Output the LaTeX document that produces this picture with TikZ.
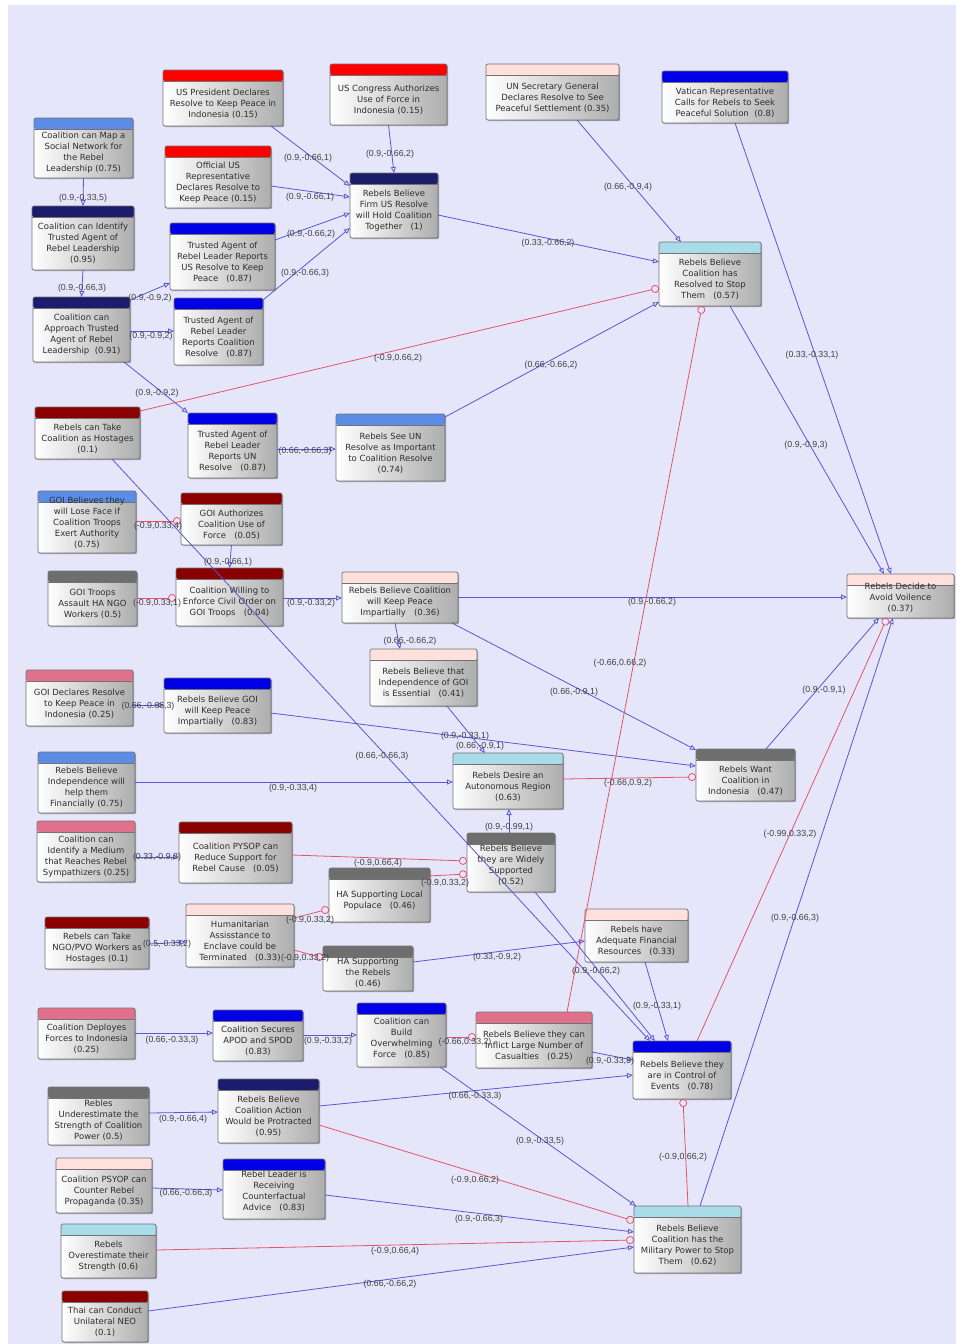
\documentclass[tikz,border=0pt]{standalone}
\usepackage{fontspec}
\usetikzlibrary{arrows.meta,calc,shadows}
\newfontfamily\boxff{DejaVu Sans}
\newfontfamily\lblff{Liberation Sans}
\newcommand\boxfont{\boxff\fontsize{8.5}{11}\selectfont}
\newcommand\lblfont{\lblff\fontsize{8.8}{10}\selectfont}
\definecolor{bglav}{HTML}{E6E6FA}
\definecolor{hred}{HTML}{FF0000}
\definecolor{hnavy}{HTML}{1C1C6C}
\definecolor{hblue}{HTML}{0000E6}
\definecolor{hcorn}{HTML}{5B8DE6}
\definecolor{hpink}{HTML}{FFE0DC}
\definecolor{hdred}{HTML}{8B0000}
\definecolor{hgray}{HTML}{6E6E6E}
\definecolor{hrose}{HTML}{E0708C}
\definecolor{hlblue}{HTML}{A8DCE8}
\definecolor{edgeblue}{RGB}{88,88,208}
\definecolor{edgered}{RGB}{228,84,104}
\definecolor{txtgray}{HTML}{2E2E2E}
\definecolor{lblgray}{HTML}{404040}
\tikzset{
 box/.style={draw=black!55, line width=0.7pt, rounded corners=2pt, left color=white, right color=black!32,
   inner sep=0pt, outer sep=0pt, drop shadow={shadow xshift=1.2pt,shadow yshift=-1.2pt,opacity=0.3,fill=black}},
 txt/.style={font=\boxfont, text=txtgray, align=center, inner sep=0pt},
 lbl/.style={font=\lblfont, text=lblgray, inner sep=0pt},
 be/.style={draw=edgeblue, line width=0.8pt, -{Triangle[open,length=6pt,width=5pt]}},
 re/.style={draw=edgered, line width=0.8pt, -{Circle[open,length=8pt]}},
}
% name, x1, y1, x2, y2, header colour, text yshift, text
\newcommand{\mybox}[8]{%
  \node[box, minimum width={(#4)-(#2)}, minimum height={(#5)-(#3)},
    path picture={\fill[#6] (path picture bounding box.north west) rectangle ([yshift=-11pt]path picture bounding box.north east);
      \draw[black!55, line width=0.5pt] ([yshift=-11pt]path picture bounding box.north west) -- ([yshift=-11pt]path picture bounding box.north east);}]
    (#1) at ({((#2)+(#4))/2},{((#3)+(#5))/2}) {};
  \node[txt] (#1-t) at ([yshift=#7]#1.center) {#8};
}
\newcommand{\elab}[4]{\node[lbl] (#1) at (#2,#3) {#4};}
\begin{document}
\begin{tikzpicture}[x=1pt,y=-1pt]
\useasboundingbox (0,0) rectangle (956,1344);
\fill[white] (0,0) rectangle (956,1344);
\fill[bglav] (8,5) rectangle (956,1344);

% ---------- boxes ----------
\mybox{uspres}{163}{70}{283}{126}{hred}{-5.5pt}{US President Declares\\Resolve to Keep Peace in\\Indonesia (0.15)}
\mybox{congress}{330}{64}{447}{125}{hred}{-5.5pt}{US Congress Authorizes\\Use of Force in\\Indonesia (0.15)}
\mybox{unsec}{486}{64}{619}{120}{hpink}{-5.5pt}{UN Secretary General\\Declares Resolve to See\\Peaceful Settlement (0.35)}
\mybox{vatican}{662}{71}{788}{123}{hblue}{-5.5pt}{Vatican Representative\\Calls for Rebels to Seek\\Peaceful Solution\ \ (0.8)}
\mybox{mapnet}{34}{118}{133}{178}{hcorn}{-5pt}{Coalition can Map a\\Social Network for\\the Rebel\\Leadership (0.75)}
\mybox{official}{165}{146}{271}{208}{hred}{-5.5pt}{Official US\\Representative\\Declares Resolve to\\Keep Peace (0.15)}
\mybox{idta}{32}{206}{134}{270}{hnavy}{-5.5pt}{Coalition can Identify\\Trusted Agent of\\Rebel Leadership\\(0.95)}
\mybox{firmus}{350}{173}{438}{238}{hnavy}{-5.5pt}{Rebels Believe\\Firm US Resolve\\will Hold Coalition\\Together\ \ \ (1)}
\mybox{tausr}{170}{223}{275}{290}{hblue}{-5.5pt}{Trusted Agent of\\Rebel Leader Reports\\US Resolve to Keep\\Peace\ \ \ (0.87)}
\mybox{approach}{33}{297}{130}{362}{hnavy}{-5.5pt}{Coalition can\\Approach Trusted\\Agent of Rebel\\Leadership\ \ (0.91)}
\mybox{tacoal}{174}{298}{263}{365}{hblue}{-5.5pt}{Trusted Agent of\\Rebel Leader\\Reports Coalition\\Resolve\ \ \ (0.87)}
\mybox{resolved}{659}{242}{761}{306}{hlblue}{-5.5pt}{Rebels Believe\\Coalition has\\Resolved to Stop\\Them\ \ \ (0.57)}
\mybox{hostc}{35}{407}{140}{459}{hdred}{-5.5pt}{Rebels can Take\\Coalition as Hostages\\(0.1)}
\mybox{taun}{188}{413}{277}{478}{hblue}{-5.5pt}{Trusted Agent of\\Rebel Leader\\Reports UN\\Resolve\ \ \ (0.87)}
\mybox{seeun}{336}{414}{445}{481}{hcorn}{-5.5pt}{Rebels See UN\\Resolve as Important\\to Coalition Resolve\\(0.74)}
\mybox{loseface}{38}{491}{136}{553}{hcorn}{-1pt}{GOI Believes they\\will Lose Face if\\Coalition Troops\\Exert Authority\\(0.75)}
\mybox{goiauth}{181}{493}{282}{545}{hdred}{-5.5pt}{GOI Authorizes\\Coalition Use of\\Force\ \ \ (0.05)}
\mybox{goitroops}{48}{571}{137}{626}{hgray}{-5.5pt}{GOI Troops\\Assault HA NGO\\Workers (0.5)}
\mybox{willing}{176}{568}{283}{626}{hdred}{-5.5pt}{Coalition Willing to\\Enforce Civil Order on\\GOI Troops\ \ \ (0.04)}
\mybox{keeppeace}{342}{572}{458}{623}{hpink}{-5pt}{Rebels Believe Coalition\\will Keep Peace\\Impartially\ \ \ (0.36)}
\mybox{indepgoi}{370}{649}{477}{706}{hpink}{-5.5pt}{Rebels Believe that\\Independence of GOI\\is Essential\ \ \ (0.41)}
\mybox{decide}{847}{574}{954}{618}{hpink}{-1.5pt}{Rebels Decide to\\Avoid Voilence\\(0.37)}
\mybox{goidecl}{26}{670}{133}{726}{hrose}{-5.5pt}{GOI Declares Resolve\\to Keep Peace in\\Indonesia (0.25)}
\mybox{goiimp}{164}{678}{271}{733}{hblue}{-5.5pt}{Rebels Believe GOI\\will Keep Peace\\Impartially\ \ \ (0.83)}
\mybox{indepfin}{38}{752}{135}{813}{hcorn}{-5.5pt}{Rebels Believe\\Independence will\\help them\\Financially (0.75)}
\mybox{wantcoal}{696}{749}{795}{801}{hgray}{-5.5pt}{Rebels Want\\Coalition in\\Indonesia\ \ \ (0.47)}
\mybox{desire}{453}{753}{563}{809}{hlblue}{-5.5pt}{Rebels Desire an\\Autonomous Region\\(0.63)}
\mybox{medium}{37}{821}{135}{882}{hrose}{-5.5pt}{Coalition can\\Identify a Medium\\that Reaches Rebel\\Sympathizers (0.25)}
\mybox{psyopred}{179}{822}{292}{883}{hdred}{-5.5pt}{Coalition PYSOP can\\Reduce Support for\\Rebel Cause\ \ \ (0.05)}
\mybox{widely}{467}{833}{555}{892}{hgray}{-3pt}{Rebels Believe\\they are Widely\\Supported\\(0.52)}
\mybox{halocal}{329}{868}{430}{922}{hgray}{-5.5pt}{HA Supporting Local\\Populace\ \ \ (0.46)}
\mybox{hostngo}{45}{917}{149}{969}{hdred}{-5.5pt}{Rebels can Take\\NGO/PVO Workers as\\Hostages (0.1)}
\mybox{haterm}{186}{904}{294}{967}{hpink}{-5.5pt}{Humanitarian\\Assisstance to\\Enclave could be\\Terminated\ \ \ (0.33)}
\mybox{harebels}{323}{946}{413}{991}{hgray}{-4pt}{HA Supporting\\the Rebels\\(0.46)}
\mybox{havefin}{585}{909}{688}{962}{hpink}{-5.5pt}{Rebels have\\Adequate Financial\\Resources\ \ \ (0.33)}
\mybox{deploy}{38}{1008}{135}{1059}{hrose}{-5.5pt}{Coalition Deployes\\Forces to Indonesia\\(0.25)}
\mybox{apod}{213}{1010}{303}{1061}{hblue}{-5.5pt}{Coalition Secures\\APOD and SPOD\\(0.83)}
\mybox{build}{357}{1003}{446}{1067}{hblue}{-3.5pt}{Coalition can\\Build\\Overwhelming\\Force\ \ \ (0.85)}
\mybox{casual}{476}{1012}{592}{1068}{hrose}{-5.5pt}{Rebels Believe they can\\Inflict Large Number of\\Casualties\ \ \ (0.25)}
\mybox{control}{633}{1041}{731}{1099}{hblue}{-5.5pt}{Rebels Believe they\\are in Control of\\Events\ \ \ (0.78)}
\mybox{underest}{48}{1087}{149}{1145}{hgray}{-4pt}{Rebles\\Underestimate the\\Strength of Coalition\\Power (0.5)}
\mybox{protract}{218}{1079}{319}{1143}{hnavy}{-5.5pt}{Rebels Believe\\Coalition Action\\Would be Protracted\\(0.95)}
\mybox{psyopctr}{56}{1158}{152}{1213}{hpink}{-5.5pt}{Coalition PSYOP can\\Counter Rebel\\Propaganda (0.35)}
\mybox{counterf}{223}{1159}{325}{1219}{hblue}{-2pt}{Rebel Leader is\\Receiving\\Counterfactual\\Advice\ \ \ (0.83)}
\mybox{military}{634}{1206}{741}{1273}{hlblue}{-5.5pt}{Rebels Believe\\Coalition has the\\Military Power to Stop\\Them\ \ \ (0.62)}
\mybox{overest}{61}{1224}{156}{1278}{hlblue}{-5.5pt}{Rebels\\Overestimate their\\Strength (0.6)}
\mybox{thai}{62}{1291}{148}{1342}{hdred}{-5.5pt}{Thai can Conduct\\Unilateral NEO\\(0.1)}

% ---------- connectors ----------
\draw[be] (mapnet.south) -- (idta.north);
\draw[be] (idta.south) -- (approach.north);
\draw[be] ($(approach.north west)+(97,3)$) -- ($(tausr.north west)+(0,60)$);
\draw[be] ($(approach.north west)+(97,34)$) -- ($(tacoal.north west)+(0,33)$);
\draw[be] ($(approach.north west)+(91,65)$) -- (taun.north west);
\draw[be] ($(uspres.north west)+(108,56)$) -- ($(firmus.north west)+(0,13)$);
\draw[be] ($(official.north west)+(106,40)$) -- ($(firmus.north west)+(0,24)$);
\draw[be] ($(tausr.north west)+(105,17)$) -- ($(firmus.north west)+(0,40)$);
\draw[be] ($(tacoal.north west)+(89,2)$) -- ($(firmus.north west)+(0,55)$);
\draw[be] (congress.south) -- (firmus.north);
\draw[be] ($(firmus.north west)+(88,42)$) -- ($(resolved.north west)+(0,20)$);
\draw[be] ($(unsec.north west)+(91,56)$) -- ($(resolved.north west)+(22,0)$);
\draw[re] ($(hostc.north west)+(105,4)$) -- ($(resolved.north west)+(0,46)$);
\draw[be] ($(seeun.north west)+(109,3)$) -- ($(resolved.north west)+(0,60)$);
\draw[be] ($(taun.north west)+(89,36)$) -- ($(seeun.north west)+(0,35)$);
\draw[be] ($(resolved.north west)+(71,64)$) -- ($(decide.north west)+(37,0)$);
\draw[be] ($(vatican.north west)+(73,52)$) -- ($(decide.north west)+(44,0)$);
\draw[be] ($(keeppeace.north west)+(116,25)$) -- ($(decide.north west)+(0,23)$);
\draw[be] ($(wantcoal.north west)+(70,0)$) -- ($(decide.north west)+(32,44)$);
\draw[re] ($(control.north west)+(64,0)$) -- ($(decide.north west)+(40,44)$);
\draw[be] ($(military.north west)+(66,0)$) -- ($(decide.north west)+(46,44)$);
\draw[re] ($(loseface.north west)+(98,30)$) -- ($(goiauth.north west)+(0,28)$);
\draw[be] (goiauth.south) -- (willing.north);
\draw[re] ($(goitroops.north west)+(89,27)$) -- ($(willing.north west)+(0,30)$);
\draw[be] ($(willing.north west)+(107,30)$) -- ($(keeppeace.north west)+(0,26)$);
\draw[be] ($(hostc.north west)+(77,52)$) -- ($(control.north west)+(17,0)$);
\draw[be] ($(keeppeace.north west)+(53,51)$) -- ($(indepgoi.north west)+(30,0)$);
\draw[be] ($(keeppeace.north west)+(110,51)$) -- ($(wantcoal.north west)+(0,1)$);
\draw[be] ($(indepgoi.north west)+(77,57)$) -- ($(desire.north west)+(32,0)$);
\draw[be] ($(goidecl.north west)+(107,35)$) -- ($(goiimp.north west)+(0,27)$);
\draw[be] ($(goiimp.north west)+(107,35)$) -- ($(wantcoal.north west)+(0,17)$);
\draw[be] ($(indepfin.north west)+(97,30)$) -- ($(desire.north west)+(0,29)$);
\draw[re] ($(desire.north west)+(110,26)$) -- ($(wantcoal.north west)+(0,28)$);
\draw[be] ($(widely.north west)+(42,0)$) -- ($(desire.north west)+(56,56)$);
\draw[be] ($(medium.north west)+(98,36)$) -- ($(psyopred.north west)+(0,35)$);
\draw[re] ($(psyopred.north west)+(113,33)$) -- ($(widely.north west)+(0,28)$);
\draw[re] ($(halocal.north west)+(99,8)$) -- ($(widely.north west)+(0,41)$);
\draw[re] ($(haterm.north west)+(108,14)$) -- ($(halocal.north west)+(0,41)$);
\draw[re] ($(haterm.north west)+(108,46)$) -- ($(harebels.north west)+(0,12)$);
\draw[be] ($(hostngo.north west)+(104,27)$) -- ($(haterm.north west)+(0,38)$);
\draw[be] ($(harebels.north west)+(90,16)$) -- ($(havefin.north west)+(0,32)$);
\draw[be] ($(widely.north west)+(68,59)$) -- ($(control.north west)+(22,0)$);
\draw[be] ($(havefin.north west)+(60,53)$) -- ($(control.north west)+(35,0)$);
\draw[be] ($(casual.north west)+(116,40)$) -- ($(control.north west)+(0,19)$);
\draw[be] ($(protract.north west)+(101,27)$) -- ($(control.north west)+(0,34)$);
\draw[be] ($(apod.north west)+(90,25)$) -- ($(build.north west)+(0,32)$);
\draw[be] ($(deploy.north west)+(97,25)$) -- ($(apod.north west)+(0,23)$);
\draw[re] ($(build.north west)+(89,34)$) -- ($(casual.north west)+(0,25)$);
\draw[re] ($(casual.north west)+(91,0)$) -- ($(resolved.north west)+(43,64)$);
\draw[be] ($(build.north west)+(83,64)$) -- ($(military.north west)+(2,0)$);
\draw[re] ($(protract.north west)+(101,46)$) -- ($(military.north west)+(0,15)$);
\draw[be] ($(counterf.north west)+(102,36)$) -- ($(military.north west)+(0,26)$);
\draw[re] ($(overest.north west)+(95,26)$) -- ($(military.north west)+(0,34)$);
\draw[be] ($(thai.north west)+(86,20)$) -- ($(military.north west)+(0,41)$);
\draw[re] ($(military.north west)+(54,0)$) -- ($(control.north west)+(50,58)$);
\draw[be] ($(underest.north west)+(101,26)$) -- ($(protract.north west)+(0,33)$);
\draw[be] ($(psyopctr.north west)+(96,30)$) -- ($(counterf.north west)+(0,31)$);

% ---------- connector labels ----------
\elab{l1}{83}{198}{(0.9,-0.33,5)}
\elab{l2}{82}{288}{(0.9,-0.66,3)}
\elab{l3}{150}{298}{(0.9,-0.9,2)}
\elab{l4}{151}{336}{(0.9,-0.9,2)}
\elab{l5}{157}{393}{(0.9,-0.9,2)}
\elab{l6}{308}{158}{(0.9,-0.66,1)}
\elab{l7}{310}{197}{(0.9,-0.66,1)}
\elab{l8}{311}{234}{(0.9,-0.66,2)}
\elab{l9}{305}{273}{(0.9,-0.66,3)}
\elab{l10}{390}{154}{(0.9,-0.66,2)}
\elab{l11}{548}{243}{(0.33,-0.66,2)}
\elab{l12}{628}{187}{(0.66,-0.9,4)}
\elab{l13}{398}{358}{(-0.9,0.66,2)}
\elab{l14}{551}{365}{(0.66,-0.66,2)}
\elab{l15}{305}{451}{(0.66,-0.66,3)}
\elab{l16}{806}{445}{(0.9,-0.9,3)}
\elab{l17}{812}{355}{(0.33,-0.33,1)}
\elab{l18}{652}{602}{(0.9,-0.66,2)}
\elab{l19}{824}{690}{(0.9,-0.9,1)}
\elab{l20}{790}{834}{(-0.99,0.33,2)}
\elab{l21}{795}{918}{(0.9,-0.66,3)}
\elab{l22}{158}{526}{(-0.9,0.33,4)}
\elab{l23}{228}{562}{(0.9,-0.66,1)}
\elab{l24}{157}{603}{(-0.9,0.33,1)}
\elab{l25}{311}{603}{(0.9,-0.33,2)}
\elab{l26}{382}{756}{(0.66,-0.66,3)}
\elab{l27}{410}{641}{(0.66,-0.66,2)}
\elab{l28}{574}{692}{(0.66,-0.9,1)}
\elab{l29}{465}{736}{(0.9,-0.33,1)}
\elab{l30}{480}{746}{(0.66,-0.9,1)}
\elab{l31}{148}{706}{(0.66,-0.66,3)}
\elab{l32}{293}{788}{(0.9,-0.33,4)}
\elab{l33}{628}{783}{(-0.66,0.9,2)}
\elab{l34}{509}{827}{(0.9,-0.99,1)}
\elab{l35}{157}{857}{(0.33,-0.9,2)}
\elab{l36}{378}{863}{(-0.9,0.66,4)}
\elab{l37}{445}{883}{(-0.9,0.33,2)}
\elab{l38}{310}{920}{(-0.9,0.33,2)}
\elab{l39}{305}{958}{(-0.9,0.33,2)}
\elab{l40}{167}{944}{(0.5,-0.33,2)}
\elab{l41}{497}{957}{(0.33,-0.9,2)}
\elab{l42}{596}{971}{(0.9,-0.66,2)}
\elab{l43}{657}{1006}{(0.9,-0.33,1)}
\elab{l44}{610}{1061}{(0.9,-0.33,3)}
\elab{l45}{475}{1096}{(0.66,-0.33,3)}
\elab{l46}{328}{1041}{(0.9,-0.33,2)}
\elab{l47}{172}{1040}{(0.66,-0.33,3)}
\elab{l48}{465}{1042}{(-0.66,0.33,2)}
\elab{l49}{620}{663}{(-0.66,0.66,2)}
\elab{l50}{540}{1141}{(0.9,-0.33,5)}
\elab{l51}{475}{1180}{(-0.9,0.66,2)}
\elab{l52}{479}{1219}{(0.9,-0.66,3)}
\elab{l53}{395}{1251}{(-0.9,0.66,4)}
\elab{l54}{390}{1284}{(0.66,-0.66,2)}
\elab{l55}{683}{1157}{(-0.9,0.66,2)}
\elab{l56}{183}{1119}{(0.9,-0.66,4)}
\elab{l57}{186}{1193}{(0.66,-0.66,3)}
\end{tikzpicture}
\end{document}
